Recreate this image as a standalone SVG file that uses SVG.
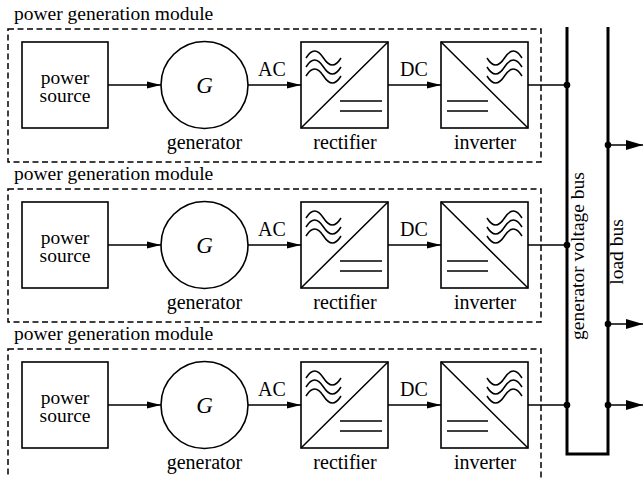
<svg xmlns="http://www.w3.org/2000/svg" width="644" height="478" viewBox="0 0 644 478" font-family="'Liberation Serif', 'Times New Roman', 'DejaVu Serif', serif">
<defs>
<style>
text{font-family:'Liberation Serif','Times New Roman','DejaVu Serif',serif;fill:#000}
.t{font-size:20px}
.ps{font-size:19.5px}
.mid{text-anchor:middle}
.title{font-size:19.5px}
.bl{font-size:19.5px;text-anchor:middle}
.g{font-size:23px;font-style:italic;text-anchor:middle}
.box{fill:#fff;stroke:#000;stroke-width:1.6}
.thin{fill:none;stroke:#000;stroke-width:1.5}
.dash{fill:none;stroke:#000;stroke-width:1.5;stroke-dasharray:6 3.5}
.bus{fill:none;stroke:#000;stroke-width:3}
.wire{fill:none;stroke:#000;stroke-width:1.6}
.dot{fill:#000}
</style>
<marker id="ah" markerUnits="userSpaceOnUse" markerWidth="14" markerHeight="8" refX="14" refY="4" orient="auto"><path d="M0,0.6 L14,4 L0,7.4 z" fill="#000"/></marker>
<marker id="ahb" markerUnits="userSpaceOnUse" markerWidth="17" markerHeight="11" refX="17" refY="5.5" orient="auto"><path d="M0,0.5 L17,5.5 L0,10.5 z" fill="#000"/></marker>
</defs>

<g id="module1">
<rect class="dash" x="8" y="29" width="533" height="133"/>
<text class="title" x="14" y="20">power generation module</text>
<g id="source1"><rect class="box" x="22" y="42" width="86" height="86"/><text class="ps mid" x="65" y="84">power</text><text class="ps mid" x="65" y="102">source</text></g>
<g id="generator1"><circle class="box" cx="204.5" cy="85" r="43.5"/><text class="g" x="204.5" y="93">G</text><text class="t mid" x="204.5" y="149">generator</text></g>
<g id="rectifier1"><rect class="box" x="301" y="42" width="87" height="86"/><path class="thin" d="M301,128 L388,42 M306,58 q8.5,-14 17.5,0 t17.5,0 M306,67 q8.5,-14 17.5,0 t17.5,0 M306,76 q8.5,-14 17.5,0 t17.5,0 M340,101 H382 M340,111 H382"/><text class="t mid" x="345" y="149">rectifier</text></g>
<g id="inverter1"><rect class="box" x="441" y="42" width="87" height="86"/><path class="thin" d="M441,42 L528,128 M487,58 q8.5,14 17.5,0 t17.5,0 M487,67 q8.5,14 17.5,0 t17.5,0 M487,76 q8.5,14 17.5,0 t17.5,0 M447,101 H488 M447,111 H488"/><text class="t mid" x="485" y="149">inverter</text></g>
<text class="t" x="258" y="76">AC</text>
<text class="t" x="400" y="76">DC</text>
</g>

<g id="module2" transform="translate(0,160)">
<rect class="dash" x="8" y="29" width="533" height="133"/>
<text class="title" x="14" y="20">power generation module</text>
<g id="source2"><rect class="box" x="22" y="42" width="86" height="86"/><text class="ps mid" x="65" y="84">power</text><text class="ps mid" x="65" y="102">source</text></g>
<g id="generator2"><circle class="box" cx="204.5" cy="85" r="43.5"/><text class="g" x="204.5" y="93">G</text><text class="t mid" x="204.5" y="149">generator</text></g>
<g id="rectifier2"><rect class="box" x="301" y="42" width="87" height="86"/><path class="thin" d="M301,128 L388,42 M306,58 q8.5,-14 17.5,0 t17.5,0 M306,67 q8.5,-14 17.5,0 t17.5,0 M306,76 q8.5,-14 17.5,0 t17.5,0 M340,101 H382 M340,111 H382"/><text class="t mid" x="345" y="149">rectifier</text></g>
<g id="inverter2"><rect class="box" x="441" y="42" width="87" height="86"/><path class="thin" d="M441,42 L528,128 M487,58 q8.5,14 17.5,0 t17.5,0 M487,67 q8.5,14 17.5,0 t17.5,0 M487,76 q8.5,14 17.5,0 t17.5,0 M447,101 H488 M447,111 H488"/><text class="t mid" x="485" y="149">inverter</text></g>
<text class="t" x="258" y="76">AC</text>
<text class="t" x="400" y="76">DC</text>
</g>

<g id="module3" transform="translate(0,320)">
<rect class="dash" x="8" y="29" width="533" height="133"/>
<text class="title" x="14" y="20">power generation module</text>
<g id="source3"><rect class="box" x="22" y="42" width="86" height="86"/><text class="ps mid" x="65" y="84">power</text><text class="ps mid" x="65" y="102">source</text></g>
<g id="generator3"><circle class="box" cx="204.5" cy="85" r="43.5"/><text class="g" x="204.5" y="93">G</text><text class="t mid" x="204.5" y="149">generator</text></g>
<g id="rectifier3"><rect class="box" x="301" y="42" width="87" height="86"/><path class="thin" d="M301,128 L388,42 M306,58 q8.5,-14 17.5,0 t17.5,0 M306,67 q8.5,-14 17.5,0 t17.5,0 M306,76 q8.5,-14 17.5,0 t17.5,0 M340,101 H382 M340,111 H382"/><text class="t mid" x="345" y="149">rectifier</text></g>
<g id="inverter3"><rect class="box" x="441" y="42" width="87" height="86"/><path class="thin" d="M441,42 L528,128 M487,58 q8.5,14 17.5,0 t17.5,0 M487,67 q8.5,14 17.5,0 t17.5,0 M487,76 q8.5,14 17.5,0 t17.5,0 M447,101 H488 M447,111 H488"/><text class="t mid" x="485" y="149">inverter</text></g>
<text class="t" x="258" y="76">AC</text>
<text class="t" x="400" y="76">DC</text>
</g>

<g id="buses">
<path class="bus" d="M567,27 V454 H608 V27"/>
<text class="bl" transform="translate(584,256) rotate(-90)">generator voltage bus</text>
<text class="bl" transform="translate(623,252) rotate(-90)">load bus</text>
</g>

<g id="connectors">
<line class="wire" x1="108" y1="85" x2="161" y2="85" marker-end="url(#ah)"/>
<line class="wire" x1="248" y1="85" x2="301" y2="85" marker-end="url(#ah)"/>
<line class="wire" x1="388" y1="85" x2="441" y2="85" marker-end="url(#ah)"/>
<line class="wire" x1="528" y1="85" x2="567" y2="85"/>
<line class="wire" x1="108" y1="245" x2="161" y2="245" marker-end="url(#ah)"/>
<line class="wire" x1="248" y1="245" x2="301" y2="245" marker-end="url(#ah)"/>
<line class="wire" x1="388" y1="245" x2="441" y2="245" marker-end="url(#ah)"/>
<line class="wire" x1="528" y1="245" x2="567" y2="245"/>
<line class="wire" x1="108" y1="405" x2="161" y2="405" marker-end="url(#ah)"/>
<line class="wire" x1="248" y1="405" x2="301" y2="405" marker-end="url(#ah)"/>
<line class="wire" x1="388" y1="405" x2="441" y2="405" marker-end="url(#ah)"/>
<line class="wire" x1="528" y1="405" x2="567" y2="405"/>
<line class="wire" x1="608" y1="145" x2="643" y2="145" marker-end="url(#ahb)"/>
<line class="wire" x1="608" y1="324" x2="643" y2="324" marker-end="url(#ahb)"/>
<line class="wire" x1="608" y1="405" x2="643" y2="405" marker-end="url(#ahb)"/>
<circle class="dot" cx="567" cy="85" r="3.3"/>
<circle class="dot" cx="567" cy="245" r="3.3"/>
<circle class="dot" cx="567" cy="405" r="3.3"/>
<circle class="dot" cx="608" cy="145" r="3.3"/>
<circle class="dot" cx="608" cy="324" r="3.3"/>
<circle class="dot" cx="608" cy="405" r="3.3"/>
</g>
</svg>
